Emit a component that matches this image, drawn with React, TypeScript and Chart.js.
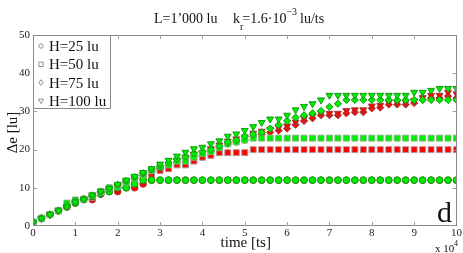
import React, { useEffect, useRef } from 'react';
import { Chart, registerables } from 'chart.js';
Chart.register(...registerables);

// time in units of 10^4 ts
const timeE4 = [0,0.2,0.4,0.6,0.8,1,1.2,1.4,1.6,1.8,2,2.2,2.4,2.6,2.8,3,3.2,3.4,3.6,3.8,4,4.2,4.4,4.6,4.8,5,5.2,5.4,5.6,5.8,6,6.2,6.4,6.6,6.8,7,7.2,7.4,7.6,7.8,8,8.2,8.4,8.6,8.8,9,9.2,9.4,9.6,9.8,10];

const h25Red = [1,2,3,4,5,6,7,6.9,8.3,9, 9,10,10,11,12,12,12,12,12,12, 12,12,12,12,12,12,12,12,12,12, 12,12,12,12,12,12,12,12,12,12, 12,12,12,12,12,12,12,12,12,12, 12];
const h25Green = [1,2,3,4,5.2,6,7,7.7,8.5,9, 10,10,11,12,12,12,12,12,12,12, 12,12,12,12,12,12,12,12,12,12, 12,12,12,12,12,12,12,12,12,12, 12,12,12,12,12,12,12,12,12,12, 12];
const h50Red = [1,2,3,4,5,6.3,7,7.5,8.5,9.5, 10.5,11.5,12,12.8,13.5,14.5,15,16,16,17, 18,18.5,19.2,19.2,19.2,19.2,20,20,20,20, 20,20,20,20,20,20,20,20,20,20, 20,20,20,20,20,20,20,20,20,20, 20];
const h50Green = [1,2,3,4,6,6.8,7,8,9,10, 10.5,11.5,12.5,13.5,14.5,15.5,16,17,17,18, 19,19.5,20.5,21.5,22,22.5,23,23,23,23, 23,23,23,23,23,23,23,23,23,23, 23,23,23,23,23,23,23,23,23,23, 23];
const h75Red = [1,2,3,4,5,6.2,7,7.8,8.8,9.6, 10.5,11.5,12.5,13.2,14.2,14.9,15.8,16.8,17.6,18.2, 18.5,19.5,20.5,21.5,22,22.5,23.5,24,24.5,25, 25.5,26.5,27.5,28.2,29,29,29,29.5,29.8,29.8, 30.8,31,31.8,31.8,31.8,32.2,33,33.5,33.5,34, 33.5];
const h75Green = [1,2,3,4,5.5,6.5,7,8,9,9.8, 10.8,11.8,12.8,13.8,14.8,15.5,16.5,17.5,18.2,19, 19.5,20,21,22,22.5,23.5,24,24.5,25.5,26.5, 27.5,28.4,29,29.5,30.1,31.2,32,33,33,33, 33,33,33,33,33,33,33,33,33,33, 33];
const h100Red = [1,2,3,4,5,6.2,7,7.9,8.9,9.7, 10.7,11.7,12.7,13.5,14.5,15.2,16.2,17.2,18,18.8, 19.2,20.2,21.2,22.2,22.8,23.3,24.3,24.8,25.3,25.8, 26.2,27.2,28.2,28.8,29.5,29.5,29.5,30.2,30.4,30.4, 31.4,31.6,32.4,32.4,32.4,32.8,33.6,34.2,34.2,35, 34.6];
const h100Green = [1,2,3,4,5,6.3,7,8.1,9.1,9.8, 10.9,12,13,14,15,16.2,17.2,18.3,19.3,20.2, 20.6,21.5,22.3,23.5,24.1,25,26,27.1,28,28, 29,30.4,31.3,32,33,34.2,34.2,34.2,34.2,34.2, 34.2,34.2,34.2,34.2,34.2,35,35,35.5,36,36, 36];

const legendLabels = ['H=25 lu', 'H=50 lu', 'H=75 lu', 'H=100 lu'];
const xTicks = [0,1,2,3,4,5,6,7,8,9,10];
const yTicks = [0,10,20,30,40,50];

const SERIF = '"Liberation Serif", "DejaVu Serif", serif';
const RED = '#ff0000';
const RED_EDGE = '#a03a3a';
const GREEN = '#00ee00';
const GREEN_EDGE = '#139a13';

function drawMarker(ctx: CanvasRenderingContext2D, kind: string, x: number, y: number, r: number) {
  ctx.beginPath();
  if (kind === 'circle') {
    ctx.arc(x, y, r, 0, Math.PI * 2);
  } else if (kind === 'rect') {
    ctx.rect(x - r, y - r, 2 * r, 2 * r);
  } else if (kind === 'rectRot') {
    ctx.moveTo(x, y - r * 1.3);
    ctx.lineTo(x + r, y);
    ctx.lineTo(x, y + r * 1.3);
    ctx.lineTo(x - r, y);
    ctx.closePath();
  } else {
    ctx.moveTo(x - r * 1.2, y - r * 0.8);
    ctx.lineTo(x + r * 1.2, y - r * 0.8);
    ctx.lineTo(x, y + r * 1.2);
    ctx.closePath();
  }
  ctx.fill();
  ctx.stroke();
}

const decor = {
  id: 'decor',
  afterDraw(chart: any) {
    const ctx: CanvasRenderingContext2D = chart.ctx;
    const { left, right, top, bottom } = chart.chartArea;
    const xs = chart.scales.x;
    const ys = chart.scales.y;
    ctx.save();
    // box
    ctx.strokeStyle = '#8a8a8a';
    ctx.lineWidth = 1;
    ctx.strokeRect(Math.round(left) + 0.5, Math.round(top) + 0.5, Math.round(right - left) - 1, Math.round(bottom - top) - 1);
    // inward ticks
    ctx.strokeStyle = '#a0a0a0';
    ctx.beginPath();
    xTicks.slice(1, -1).forEach(v => {
      const px = Math.round(xs.getPixelForValue(v)) + 0.5;
      ctx.moveTo(px, bottom); ctx.lineTo(px, bottom - 4);
      ctx.moveTo(px, top); ctx.lineTo(px, top + 4);
    });
    yTicks.slice(1, -1).forEach(v => {
      const py = Math.round(ys.getPixelForValue(v)) + 0.5;
      ctx.moveTo(left, py); ctx.lineTo(left + 4, py);
      ctx.moveTo(right, py); ctx.lineTo(right - 4, py);
    });
    ctx.stroke();

    // legend
    const lx = Math.round(left) + 0.5, ly = Math.round(top) + 0.5;
    ctx.fillStyle = '#ffffff';
    ctx.fillRect(lx, ly, 77, 73);
    ctx.strokeStyle = '#8a8a8a';
    ctx.strokeRect(lx, ly, 77, 73);
    const kinds = ['circle', 'rect', 'rectRot', 'tri'];
    ctx.font = `15px ${SERIF}`;
    ctx.textBaseline = 'middle';
    ctx.textAlign = 'left';
    legendLabels.forEach((lab, i) => {
      const cy = top + 11 + i * 18.3;
      ctx.fillStyle = '#ffffff';
      ctx.strokeStyle = '#909090';
      drawMarker(ctx, kinds[i], left + 8, cy, 2.2);
      ctx.fillStyle = '#111';
      ctx.fillText(lab, left + 16, cy + 1);
    });

    // title
    ctx.fillStyle = '#111';
    ctx.textBaseline = 'alphabetic';
    ctx.font = `14px ${SERIF}`;
    ctx.fillText('L=1\u2019000 lu', 154, 22.5);
    let x = 233;
    ctx.fillText('k', x, 22.5);
    x += ctx.measureText('k').width;
    ctx.font = `10px ${SERIF}`;
    ctx.fillText('r', x, 30);
    x += ctx.measureText('r').width - 1;
    ctx.font = `14px ${SERIF}`;
    const mid = '=1.6\u00b710';
    ctx.fillText(mid, x, 22.5);
    x += ctx.measureText(mid).width;
    ctx.font = `10px ${SERIF}`;
    ctx.fillText('\u22123', x, 15);
    x += ctx.measureText('\u22123').width + 3;
    ctx.font = `14px ${SERIF}`;
    ctx.fillText('lu/ts', x, 22.5);

    // axis titles
    ctx.font = `15px ${SERIF}`;
    ctx.textAlign = 'center';
    ctx.textBaseline = 'middle';
    ctx.fillText('time [ts]', (left + right) / 2 + 1, 243);
    ctx.save();
    ctx.translate(13, (top + bottom) / 2 + 2);
    ctx.rotate(-Math.PI / 2);
    ctx.fillText('\u0394e [lu]', 0, 0);
    ctx.restore();

    // exponent
    ctx.textAlign = 'left';
    ctx.textBaseline = 'alphabetic';
    ctx.font = `11px ${SERIF}`;
    ctx.fillText('x 10', 435, 252);
    ctx.font = `8px ${SERIF}`;
    ctx.fillText('4', 454, 246);

    // panel letter
    ctx.font = `30px ${SERIF}`;
    ctx.fillText('d', 437, 222);
    ctx.restore();
  },
};

export default function App() {
  const ref = useRef<HTMLCanvasElement>(null);
  useEffect(() => {
    document.body.style.margin = '0';
    const pts = (ys: number[]) => ys.map((y, i) => ({ x: timeE4[i], y }));
    const ds = (label: string, ys: number[], style: string, fill: string, edge: string, r: number, rot = 0) => ({
      label,
      data: pts(ys),
      pointStyle: style,
      pointRadius: r,
      pointRotation: rot,
      pointBackgroundColor: fill,
      pointBorderColor: edge,
      pointBorderWidth: 1,
      showLine: false,
    });
    const chart = new Chart(ref.current as HTMLCanvasElement, {
      type: 'scatter',
      data: {
        datasets: [
          ds('H=100 lu green', h100Green, 'triangle', GREEN, GREEN_EDGE, 4, 180),
          ds('H=75 lu green', h75Green, 'rectRot', GREEN, GREEN_EDGE, 3.6),
          ds('H=50 lu green', h50Green, 'rect', GREEN, '#7ab87a', 4.2),
          ds('H=25 lu green', h25Green, 'circle', GREEN, GREEN_EDGE, 3.3),
          ds('H=100 lu red', h100Red, 'triangle', RED, RED_EDGE, 4, 180),
          ds('H=75 lu red', h75Red, 'rectRot', RED, RED_EDGE, 3.6),
          ds('H=50 lu red', h50Red, 'rect', RED, '#b89090', 4.2),
          ds('H=25 lu red', h25Red, 'circle', RED, RED_EDGE, 3.3),
        ] as any,
      },
      options: {
        animation: false,
        responsive: false,
        layout: { padding: { top: 35, right: 6, left: 0, bottom: 0 } },
        plugins: { legend: { display: false }, tooltip: { enabled: false }, title: { display: false } },
        scales: {
          x: {
            type: 'linear',
            min: 0,
            max: 10,
            afterFit: (s: any) => { s.height = 27; },
            afterBuildTicks: (s: any) => { s.ticks = xTicks.map(v => ({ value: v })); },
            grid: { display: false, drawTicks: false },
            border: { display: false },
            ticks: { padding: 1, maxRotation: 0, autoSkip: false, color: '#222', font: { family: SERIF, size: 11 } },
          },
          y: {
            type: 'linear',
            min: 0,
            max: 50,
            afterFit: (s: any) => { s.width = 33; },
            afterBuildTicks: (s: any) => { s.ticks = yTicks.map(v => ({ value: v })); },
            grid: { display: false, drawTicks: false },
            border: { display: false },
            ticks: { padding: 3, color: '#222', font: { family: SERIF, size: 11 } },
          },
        },
      } as any,
      plugins: [decor],
    });
    return () => chart.destroy();
  }, []);
  return <canvas ref={ref} width={463} height={253} style={{ display: 'block' }} />;
}
